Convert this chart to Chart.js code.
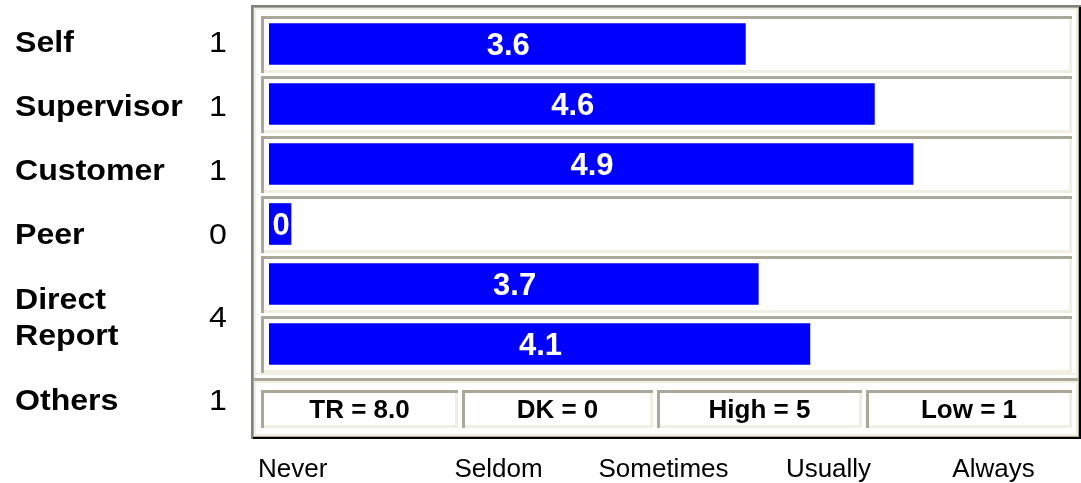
<!DOCTYPE html>
<html>
<head>
<meta charset="utf-8">
<script src="https://cdn.jsdelivr.net/npm/chart.js@4.4.1/dist/chart.umd.min.js"></script>
<style>
  body { margin: 0; background: #fff; }
  canvas { display: block; }
</style>
</head>
<body>
<canvas id="raterChart" width="1081" height="483"></canvas>
<script>
// rater groups, number of raters and mean score per group
const groups = ['Self', 'Supervisor', 'Customer', 'Peer', ['Direct', 'Report'], 'Others'];
const raterCounts = [1, 1, 1, 0, 4, 1];
const meanScores = [3.6, 4.6, 4.9, 0, 3.7, 4.1];
const scaleLabels = ['Never', 'Seldom', 'Sometimes', 'Usually', 'Always'];
const summaryLabels = ['TR = 8.0', 'DK = 0', 'High = 5', 'Low = 1'];

const FONT = '"Liberation Sans", Arial, sans-serif';
const DARK = '#aca899';
const LIGHT = '#f1efe2';
const X_MIN = -0.093;
const X_MAX = 6.062;

// sunken box: top/left in one colour, bottom/right in the other
function bevel(ctx, x1, y1, x2, y2, t, tl, br) {
	ctx.fillStyle = tl;
	ctx.fillRect(x1, y1, x2 - x1, t);
	ctx.fillRect(x1, y1, t, y2 - y1);
	ctx.fillStyle = br;
	ctx.fillRect(x1 + t, y2 - t, x2 - x1 - t, t);
	ctx.fillRect(x2 - t, y1 + t, t, y2 - y1 - t);
}

function stretchedText(ctx, txt, x, y, sx) {
	ctx.save();
	ctx.translate(x, y);
	ctx.scale(sx, 1);
	ctx.fillText(txt, 0, 0);
	ctx.restore();
}

const framePlugin = {
	id: 'frames',
	beforeDatasetsDraw(chart) {
		const ctx = chart.ctx;
		const area = chart.chartArea;
		const yScale = chart.scales.y;
		ctx.save();
		// outer frame
		bevel(ctx, 251, 5, 1081, 439, 2, '#808080', '#000000');
		bevel(ctx, 253, 7, 1079, 437, 1, DARK, DARK);
		bevel(ctx, 254, 8, 1078, 436, 2, LIGHT, LIGHT);
		// separator between bars and summary row
		ctx.fillStyle = LIGHT;
		ctx.fillRect(256, 373, 820, 2);
		ctx.fillStyle = DARK;
		ctx.fillRect(254, 378, 824, 3);
		ctx.fillStyle = LIGHT;
		ctx.fillRect(254, 381, 824, 2);
		// one box per bar row
		for (let i = 0; i < meanScores.length; i++) {
			const c = Math.round(yScale.getPixelForValue(i));
			bevel(ctx, area.left - 8, c - 28, area.right + 9, c + 29, 3, DARK, LIGHT);
		}
		ctx.restore();
	},
	afterDatasetsDraw(chart) {
		const ctx = chart.ctx;
		const meta = chart.getDatasetMeta(0);
		ctx.save();

		// values inside the bars
		ctx.font = 'bold 31px ' + FONT;
		ctx.fillStyle = '#ffffff';
		ctx.textAlign = 'center';
		ctx.textBaseline = 'alphabetic';
		meta.data.forEach((el, i) => {
			const v = meanScores[i];
			const txt = v === 0 ? '0' : v.toFixed(1);
			ctx.fillText(txt, (el.x + el.base) / 2 + 1, el.y + 11);
		});

		// group names and rater counts on the left
		ctx.fillStyle = '#000000';
		let top = 9;
		groups.forEach((g, i) => {
			const lines = Array.isArray(g) ? g : [g];
			const h = lines.length > 1 ? 102 : 64;
			const mid = top + h / 2;
			ctx.font = 'bold 30px ' + FONT;
			ctx.textAlign = 'left';
			lines.forEach((ln, k) => {
				const off = (k - (lines.length - 1) / 2) * 36;
				stretchedText(ctx, ln, 15, mid + off + 11, 1.07);
			});
			ctx.font = '30px ' + FONT;
			ctx.textAlign = 'center';
			stretchedText(ctx, String(raterCounts[i]), 218, mid + 11, 1.07);
			top += h;
		});

		// summary boxes
		const boxes = [[261, 458], [462, 653], [657, 862], [866, 1072]];
		ctx.font = 'bold 26px ' + FONT;
		ctx.textAlign = 'center';
		summaryLabels.forEach((s, i) => {
			const b = boxes[i];
			bevel(ctx, b[0], 390, b[1], 428, 3, DARK, LIGHT);
			ctx.fillStyle = '#000000';
			ctx.fillText(s, (b[0] + b[1]) / 2, 418);
		});

		// response scale under the frame
		ctx.font = '26px ' + FONT;
		scaleLabels.forEach((s, i) => {
			if (i === 0) {
				ctx.textAlign = 'left';
				ctx.fillText(s, 258, 477);
			} else {
				ctx.textAlign = 'center';
				ctx.fillText(s, 251 + 165 * (i + 0.5), 477);
			}
		});
		ctx.restore();
	}
};

const config = {
	type: 'bar',
	data: {
		labels: groups,
		datasets: [{
			data: meanScores,
			backgroundColor: '#0000ff',
			borderWidth: 0,
			base: X_MIN,
			barThickness: 41,
			minBarLength: 22
		}]
	},
	options: {
		indexAxis: 'y',
		responsive: false,
		animation: false,
		devicePixelRatio: 1,
		layout: {
			padding: { left: 269, right: 18, top: 14, bottom: 109 }
		},
		scales: {
			x: { type: 'linear', min: X_MIN, max: X_MAX, display: false },
			y: { type: 'category', display: false, offset: true }
		},
		plugins: {
			legend: { display: false },
			tooltip: { enabled: false }
		}
	},
	plugins: [framePlugin]
};

new Chart(document.getElementById('raterChart'), config);
</script>
</body>
</html>
